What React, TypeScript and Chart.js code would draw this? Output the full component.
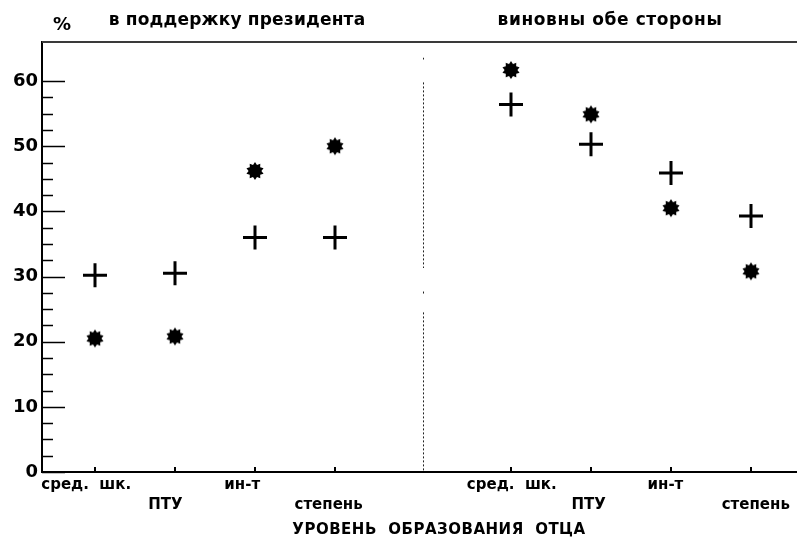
import { useEffect, useRef } from 'react';
import { Chart, registerables } from 'chart.js';

Chart.register(...registerables);

// ---- data ----
const categories = ['сред.  шк.', 'ПТУ', 'ин-т', 'степень', 'сред.  шк.', 'ПТУ', 'ин-т', 'степень'];
const labelRows = [0, 1, 0, 1, 0, 1, 0, 1];
const tickPositions = [1, 2, 3, 4, 6.2, 7.2, 8.2, 9.2];
const labelPositions = [0.89, 1.88, 2.84, 3.92, 6.21, 7.17, 8.13, 9.26];
const crossValues = [30.2, 30.5, 36, 36, 56.4, 50.3, 45.9, 39.3];
const starValues = [20.5, 20.8, 46.2, 50, 61.7, 54.9, 40.5, 30.8];
const yTickValues = [0, 10, 20, 30, 40, 50, 60];
const panelTitles = ['в поддержку президента', 'виновны обе стороны'];
const axisTitle = 'УРОВЕНЬ  ОБРАЗОВАНИЯ  ОТЦА';
const unitLabel = '%';
const dividerX = 5.1;
const dividerSegments = [[63.6, 63.3], [59.8, 31.3], [27.7, 27.3], [24.5, 0]];

const FONT = "'DejaVu Sans', 'Liberation Sans', sans-serif";

function makeStar(): HTMLCanvasElement {
  const c = document.createElement('canvas');
  c.width = 20;
  c.height = 20;
  const g = c.getContext('2d')!;
  g.fillStyle = '#000';
  g.beginPath();
  const n = 10;
  for (let i = 0; i < n * 2; i++) {
    const r = i % 2 === 0 ? 9 : 6.4;
    const a = (Math.PI * i) / n - Math.PI / 2;
    const px = 10 + r * Math.cos(a);
    const py = 10 + r * Math.sin(a);
    if (i === 0) g.moveTo(px, py);
    else g.lineTo(px, py);
  }
  g.closePath();
  g.fill();
  return c;
}

const decorPlugin = {
  id: 'decor',
  beforeDraw(chart: any) {
    const ctx = chart.ctx;
    ctx.save();
    ctx.fillStyle = '#fff';
    ctx.fillRect(0, 0, chart.width, chart.height);
    ctx.restore();
  },
  afterDraw(chart: any) {
    const { ctx, chartArea: a, scales } = chart;
    const x = scales.x;
    const y = scales.y;
    ctx.save();
    // top frame line
    ctx.strokeStyle = '#3a3a3a';
    ctx.lineWidth = 2;
    ctx.beginPath();
    ctx.moveTo(a.left, a.top);
    ctx.lineTo(chart.width, a.top);
    ctx.stroke();
    // y ticks (inside)
    ctx.strokeStyle = '#000';
    ctx.lineWidth = 1.5;
    for (let v = 0; v <= 60; v += 2.5) {
      const py = Math.round(y.getPixelForValue(v)) + 0.5;
      const len = v % 10 === 0 ? 23 : 11;
      ctx.beginPath();
      ctx.moveTo(a.left, py);
      ctx.lineTo(a.left + len, py);
      ctx.stroke();
    }
    // x ticks (inside)
    ctx.lineWidth = 2;
    tickPositions.forEach((v) => {
      const px = Math.round(x.getPixelForValue(v));
      ctx.beginPath();
      ctx.moveTo(px, a.bottom);
      ctx.lineTo(px, a.bottom - 5);
      ctx.stroke();
    });
    // dotted divider
    ctx.lineWidth = 1;
    ctx.strokeStyle = '#222';
    ctx.setLineDash([2, 2]);
    const dx = Math.round(x.getPixelForValue(dividerX)) + 0.5;
    dividerSegments.forEach(([v1, v2]) => {
      ctx.beginPath();
      ctx.moveTo(dx, y.getPixelForValue(v1));
      ctx.lineTo(dx, y.getPixelForValue(v2));
      ctx.stroke();
    });
    ctx.setLineDash([]);
    // texts
    ctx.fillStyle = '#000';
    ctx.textAlign = 'center';
    ctx.textBaseline = 'middle';
    ctx.font = `bold 17px ${FONT}`;
    (ctx as any).letterSpacing = '0.2px';
    ctx.fillText(panelTitles[0], 237, 21);
    (ctx as any).letterSpacing = '0.6px';
    ctx.fillText(panelTitles[1], 610, 21);
    (ctx as any).letterSpacing = '0px';
    ctx.font = `bold 18px ${FONT}`;
    ctx.fillText(unitLabel, 62, 25);
    (ctx as any).letterSpacing = '0.5px';
    ctx.font = `bold 15px ${FONT}`;
    ctx.fillText(axisTitle, 439, 530);
    ctx.restore();
  },
};

export default function App() {
  const ref = useRef<HTMLCanvasElement | null>(null);
  useEffect(() => {
    if (!ref.current) return;
    const star = makeStar();
    const chart = new Chart(ref.current, {
      type: 'scatter',
      data: {
        datasets: [
          {
            label: 'cross',
            data: tickPositions.map((xv, i) => ({ x: xv, y: crossValues[i] })),
            pointStyle: 'cross',
            pointRadius: 12,
            borderWidth: 3,
            borderColor: '#000',
            backgroundColor: '#000',
          },
          {
            label: 'star',
            data: tickPositions.map((xv, i) => ({ x: xv, y: starValues[i] })),
            pointStyle: star as any,
            pointRadius: 9,
            borderColor: '#000',
            backgroundColor: '#000',
          },
        ],
      },
      options: {
        animation: false,
        responsive: false,
        events: [],
        layout: { autoPadding: false, padding: { top: 42, left: 0, right: 0, bottom: 0 } },
        plugins: { legend: { display: false }, tooltip: { enabled: false } },
        scales: {
          x: {
            type: 'linear',
            min: 0.3375,
            max: 9.775,
            afterBuildTicks: (axis: any) => {
              axis.ticks = labelPositions.map((v) => ({ value: v }));
            },
            afterFit: (axis: any) => {
              axis.height = 67;
              axis.paddingLeft = 0;
              axis.paddingRight = 0;
            },
            grid: { display: true, drawOnChartArea: false, drawTicks: false },
            border: { display: true, color: '#000', width: 2 },
            ticks: {
              autoSkip: false,
              maxRotation: 0,
              minRotation: 0,
              padding: 3,
              color: '#000',
              font: { family: FONT, size: 15, weight: 'bold', lineHeight: 1.35 },
              callback: (_v: any, i: number) =>
                labelRows[i] ? ['', categories[i]] : categories[i],
            },
          },
          y: {
            type: 'linear',
            min: 0,
            max: 66,
            afterBuildTicks: (axis: any) => {
              axis.ticks = yTickValues.map((v) => ({ value: v }));
            },
            afterFit: (axis: any) => {
              axis.width = 42;
              axis.paddingTop = 0;
              axis.paddingBottom = 0;
            },
            grid: { display: true, drawOnChartArea: false, drawTicks: false },
            border: { display: true, color: '#000', width: 2 },
            ticks: {
              padding: 4,
              color: '#000',
              font: { family: FONT, size: 18, weight: 'bold' },
            },
          },
        },
      },
      plugins: [decorPlugin],
    });
    return () => chart.destroy();
  }, []);
  return (
    <div style={{ position: 'fixed', left: 0, top: 0, width: 797, height: 539, background: '#fff' }}>
      <canvas ref={ref} width={797} height={539} style={{ display: 'block' }} />
    </div>
  );
}
